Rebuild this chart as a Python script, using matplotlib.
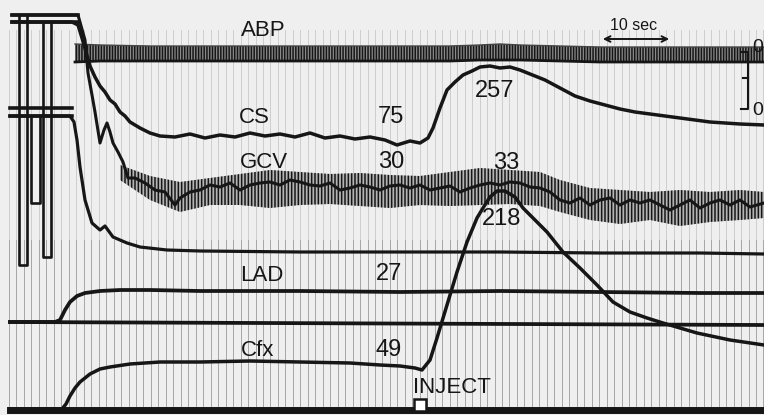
import numpy as np
import matplotlib.pyplot as plt

plt.rcParams['font.family'] = ['Liberation Sans', 'DejaVu Sans']
plt.rcParams['hatch.linewidth'] = 1.1
plt.rcParams['hatch.color'] = '#1a1a1a'

# ---- chart paper position (x) and pen deflection (y, paper units, down = larger) ----
# ABP: dense pulsatile band, upper / lower envelope
abp_x = [75, 100, 150, 200, 250, 300, 350, 400, 450, 480, 500, 520, 560, 600, 650, 700, 740, 764]
abp_top = [44, 45, 46, 46, 46, 46, 46, 46, 46, 45, 44, 45, 46, 47, 47, 47, 47, 47]
abp_bot = [62, 61, 61, 61, 61, 61, 61, 61, 61, 60, 60, 60, 61, 62, 62, 62, 62, 62]

# CS (coronary sinus) pressure
cs_x = [12, 72, 78, 82, 86, 90, 95, 100, 105, 110, 115, 120, 125, 130, 140, 150, 160, 175, 190,
        205, 220, 235, 250, 265, 280, 295, 310, 325, 340, 355, 370, 385, 397, 410, 420, 428,
        433, 440, 447, 455, 463, 472, 480, 490, 500, 510, 520, 530, 545, 560, 575, 590, 605,
        620, 635, 650, 665, 680, 695, 710, 725, 740, 764]
cs_y = [22, 22, 25, 38, 52, 66, 77, 86, 92, 100, 104, 112, 116, 122, 128, 133, 136, 137, 134,
        138, 135, 137, 133, 136, 134, 137, 133, 138, 136, 139, 137, 140, 145, 141, 143, 138,
        128, 108, 90, 82, 75, 71, 67, 66, 68, 67, 70, 74, 80, 88, 96, 101, 105, 109, 112,
        114, 116, 118, 120, 122, 123, 124, 125]

# GCV (great cardiac vein) pressure: mean line and oscillation envelope
gcv_x = [12, 78, 85, 88, 92, 95, 100, 104, 107, 110, 113, 118, 123, 128, 135, 145, 155, 165,
         175, 180, 190, 200, 210, 220, 230, 240, 250, 260, 270, 280, 290, 300, 310, 320, 330,
         340, 350, 360, 370, 380, 390, 400, 410, 420, 430, 440, 450, 460, 470, 480, 490, 500,
         510, 520, 530, 540, 550, 560, 570, 580, 590, 600, 610, 620, 630, 640, 650, 660, 670,
         680, 690, 700, 710, 720, 730, 740, 750, 764]
gcv_y = [15, 15, 40, 73, 95, 112, 143, 130, 123, 132, 143, 152, 162, 178, 178, 183, 190, 192,
         205, 198, 192, 190, 185, 187, 183, 190, 185, 183, 182, 185, 180, 182, 185, 186, 183,
         190, 188, 185, 187, 190, 186, 185, 188, 185, 190, 188, 186, 192, 188, 185, 183, 185,
         182, 183, 187, 188, 192, 200, 203, 198, 205, 200, 198, 205, 200, 203, 200, 205, 210,
         205, 200, 208, 203, 200, 205, 200, 207, 203]
gcv_band_x = [120, 150, 180, 210, 240, 270, 300, 330, 360, 390, 420, 450, 480, 510, 540, 560,
              590, 620, 650, 680, 710, 740, 764]
gcv_hi = [165, 176, 182, 178, 174, 170, 172, 174, 173, 175, 176, 172, 168, 170, 172, 180,
          188, 190, 192, 190, 192, 190, 192]
gcv_lo = [180, 200, 212, 205, 205, 208, 205, 204, 206, 208, 205, 206, 205, 204, 206, 212,
          220, 224, 220, 226, 222, 220, 218]

# third pressure trace falling from the calibration level to the lower plateau
p3_x = [10, 70, 74, 77, 80, 85, 92, 100, 105, 113, 127, 140, 167, 200, 300, 400, 500, 600, 700, 764]
p3_y = [116, 116, 122, 140, 167, 200, 223, 230, 226, 237, 243, 247, 250, 251, 252, 252, 252, 253, 253, 254]

# LAD flow and its zero line
lad_x = [10, 55, 60, 65, 70, 77, 85, 100, 120, 150, 200, 300, 400, 500, 600, 700, 764]
lad_y = [322, 322, 320, 310, 302, 296, 293, 291, 290, 290, 291, 291, 292, 291, 292, 293, 293]
lad_zero_x = [10, 764]
lad_zero_y = [322, 325]

# Cfx flow (response after injection)
cfx_x = [10, 62, 66, 70, 75, 80, 90, 100, 110, 130, 160, 200, 250, 300, 350, 380, 400, 415,
         422, 430, 437, 447, 457, 467, 477, 483, 490, 497, 505, 515, 523, 535, 547, 563, 580,
         597, 613, 630, 647, 663, 680, 697, 730, 764]
cfx_y = [409, 409, 404, 396, 388, 382, 374, 369, 367, 364, 362, 362, 361, 362, 363, 365, 366,
         368, 370, 360, 338, 305, 272, 242, 218, 208, 197, 191, 191, 197, 208, 220, 232, 252,
         268, 285, 302, 312, 318, 323, 328, 333, 340, 345]
cfx_zero_x = [10, 764]
cfx_zero_y = [410, 410]

# calibration steps at the start of the record
cal_top_x = [12, 78]
cal_top_y = [[15, 15], [22, 22]]
cal_mid_x = [10, 72]
cal_mid_y = [[108, 108], [116, 116]]
cal_u_x = [[19, 19, 27, 27], [31, 31, 40, 40], [43, 43, 51, 51]]
cal_u_y = [[15, 265, 265, 15], [116, 203, 203, 116], [22, 257, 257, 22]]

inject_x = 420

labels = [('ABP', 263, 30), ('CS', 254, 117), ('GCV', 264, 162),
          ('LAD', 262, 275), ('Cfx', 258, 350)]
values = [('75', 391, 117), ('30', 391, 162), ('257', 495, 91), ('33', 506, 163),
          ('218', 502, 219), ('27', 389, 274), ('49', 389, 350)]

# ---- figure ----
fig = plt.figure(figsize=(7.64, 4.15), dpi=100, facecolor='#efefef')

# chart paper time lines
grid_up = fig.add_axes([0, 175 / 415, 1, 210 / 415])
grid_lo = fig.add_axes([0, 3 / 415, 1, 172 / 415])
for g, col in [(grid_up, '#cdcdcd'), (grid_lo, '#a6a6a6')]:
    g.set_xlim(0, 764)
    g.set_xticks(np.arange(9, 764, 7.47))
    g.grid(axis='x', color=col, lw=0.7)
    g.set_facecolor('none')
    g.tick_params(length=0, labelbottom=False, labelleft=False)
    g.set_yticks([])
    for s in g.spines.values():
        s.set_visible(False)

ax = fig.add_axes([0, 0, 1, 1])
ax.set_xlim(0, 764)
ax.set_ylim(415, 0)
ax.set_facecolor('none')
ax.axis('off')

ink = '#161616'

# ABP band
ax.fill_between(abp_x, abp_top, abp_bot, facecolor='#8a8a8a', edgecolor=ink, hatch='|' * 6, lw=0)
ax.plot(abp_x, abp_bot, color=ink, lw=2.0)
ax.plot(abp_x, abp_top, color='#444444', lw=1.0)

# GCV band + mean
ax.fill_between(gcv_band_x, gcv_hi, gcv_lo, facecolor='#b5b5b5', edgecolor=ink, hatch='|' * 5, lw=0)
ax.plot(gcv_x, gcv_y, color=ink, lw=2.2)

ax.plot(cs_x, cs_y, color=ink, lw=2.5)
ax.plot(p3_x, p3_y, color=ink, lw=2.3)
ax.plot(lad_zero_x, lad_zero_y, color=ink, lw=2.7)
ax.plot(lad_x, lad_y, color=ink, lw=2.7)
ax.plot(cfx_zero_x, cfx_zero_y, color=ink, lw=5)
ax.plot(cfx_x, cfx_y, color=ink, lw=2.5)

for yy in cal_top_y:
    ax.plot(cal_top_x, yy, color=ink, lw=2.6)
for yy in cal_mid_y:
    ax.plot(cal_mid_x, yy, color=ink, lw=2.6)
for ux, uy in zip(cal_u_x, cal_u_y):
    ax.plot(ux, uy, color=ink, lw=1.9)

# injection marker
ax.plot([inject_x], [405], marker='s', ms=8, mfc='white', mec=ink, mew=1.8)

for txt, x, y in labels:
    ax.text(x, y, txt, ha='center', va='center', fontsize=16, color=ink)
for txt, x, y in values:
    ax.text(x, y, txt, ha='center', va='center', fontsize=17, color=ink)
ax.text(452, 387, 'INJECT', ha='center', va='center', fontsize=16, color=ink)

# 10 s time scale
ax.text(634, 26, '10 sec', ha='center', va='center', fontsize=11.5, color=ink)
ax.annotate('', xy=(600, 39), xytext=(672, 39),
            arrowprops=dict(arrowstyle='<->', color=ink, lw=1.4))

# pressure calibration bar
ax.plot([741, 748, 748, 741], [52, 52, 109, 109], color=ink, lw=1.5)
ax.plot([743, 748], [78, 78], color=ink, lw=1.5)
ax.text(758, 47, '0', ha='center', va='center', fontsize=14, color=ink)
ax.text(758, 110, '0', ha='center', va='center', fontsize=14, color=ink)

fig.savefig('out.png', dpi=100, facecolor=fig.get_facecolor())
